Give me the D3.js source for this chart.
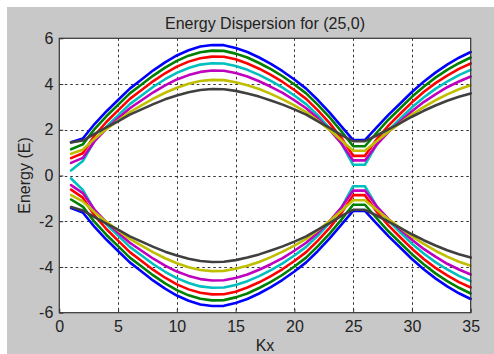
<!DOCTYPE html>
<html>
<head>
<meta charset="utf-8">
<script src="https://cdn.jsdelivr.net/npm/d3@7"></script>
<style>
  html, body { margin: 0; padding: 0; background: #ffffff; }
  svg { display: block; }
  text { font-family: "Liberation Sans", Arial, Helvetica, sans-serif; fill: #222; }
</style>
</head>
<body>
<svg id="chart" width="494" height="354"></svg>
<script>
// Wave-vector index along the tube axis
const kx = [1,2,3,4,5,6,7,8,9,10,11,12,13,14,15,16,17,18,19,20,21,22,23,24,25,26,27,28,29,30,31,32,33,34,35];

// Conduction bands (E > 0)
const cBlue    = [1.45,1.62,2.25,2.8,3.3,3.8,4.2,4.6,4.95,5.25,5.48,5.64,5.71,5.7,5.58,5.4,5.16,4.88,4.56,4.2,3.8,3.3,2.75,2.15,1.55,1.55,2.1,2.65,3.15,3.65,4.1,4.5,4.85,5.15,5.4];
const cGreen   = [1.15,1.36,2.03,2.59,3.09,3.59,3.98,4.37,4.72,5.01,5.24,5.39,5.46,5.45,5.33,5.16,4.92,4.65,4.34,3.98,3.59,3.09,2.54,1.93,1.28,1.28,1.87,2.44,2.94,3.44,3.88,4.28,4.62,4.91,5.16];
const cRed     = [0.76,0.97,1.75,2.34,2.85,3.35,3.74,4.13,4.47,4.76,4.98,5.13,5.2,5.19,5.08,4.9,4.67,4.4,4.09,3.74,3.35,2.85,2.29,1.64,0.86,0.86,1.58,2.18,2.7,3.2,3.65,4.04,4.37,4.66,4.9];
const cCyan    = [0.22,0.63,1.53,2.13,2.63,3.12,3.5,3.88,4.21,4.49,4.7,4.85,4.91,4.9,4.79,4.62,4.4,4.14,3.84,3.5,3.12,2.63,2.07,1.41,0.47,0.47,1.35,1.97,2.48,2.98,3.41,3.79,4.11,4.39,4.62];
const cMagenta = [0.55,0.77,1.5,2.04,2.5,2.94,3.29,3.64,3.94,4.2,4.39,4.53,4.59,4.58,4.48,4.33,4.12,3.88,3.61,3.29,2.94,2.5,1.99,1.4,0.66,0.66,1.35,1.9,2.36,2.81,3.21,3.55,3.86,4.11,4.33];
const cYellow  = [0.95,1.13,1.61,2.03,2.4,2.77,3.07,3.36,3.62,3.84,4.01,4.13,4.18,4.17,4.08,3.95,3.78,3.57,3.33,3.07,2.77,2.4,1.99,1.54,1.08,1.08,1.5,1.91,2.29,2.66,2.99,3.29,3.55,3.77,3.95];
const cBlack   = [1.45,1.53,1.82,2.1,2.37,2.66,2.89,3.12,3.33,3.5,3.64,3.74,3.78,3.77,3.7,3.59,3.45,3.28,3.1,2.89,2.66,2.37,2.08,1.77,1.5,1.5,1.75,2.02,2.29,2.57,2.83,3.06,3.27,3.44,3.59];

// Valence bands (E < 0)
const vBlue    = [-1.42,-1.62,-2.25,-2.8,-3.3,-3.8,-4.2,-4.6,-4.95,-5.25,-5.48,-5.64,-5.71,-5.7,-5.58,-5.4,-5.16,-4.88,-4.56,-4.2,-3.8,-3.3,-2.75,-2.15,-1.55,-1.55,-2.1,-2.65,-3.15,-3.65,-4.1,-4.5,-4.85,-5.15,-5.4];
const vGreen   = [-1.05,-1.36,-2.03,-2.59,-3.09,-3.59,-3.98,-4.37,-4.72,-5.01,-5.24,-5.39,-5.46,-5.45,-5.33,-5.16,-4.92,-4.65,-4.34,-3.98,-3.59,-3.09,-2.54,-1.93,-1.28,-1.28,-1.87,-2.44,-2.94,-3.44,-3.88,-4.28,-4.62,-4.91,-5.16];
const vRed     = [-0.62,-0.97,-1.75,-2.34,-2.85,-3.35,-3.74,-4.13,-4.47,-4.76,-4.98,-5.13,-5.2,-5.19,-5.08,-4.9,-4.67,-4.4,-4.09,-3.74,-3.35,-2.85,-2.29,-1.64,-0.86,-0.86,-1.58,-2.18,-2.7,-3.2,-3.65,-4.04,-4.37,-4.66,-4.9];
const vCyan    = [-0.13,-0.63,-1.53,-2.13,-2.63,-3.12,-3.5,-3.88,-4.21,-4.49,-4.7,-4.85,-4.91,-4.9,-4.79,-4.62,-4.4,-4.14,-3.84,-3.5,-3.12,-2.63,-2.07,-1.41,-0.47,-0.47,-1.35,-1.97,-2.48,-2.98,-3.41,-3.79,-4.11,-4.39,-4.62];
const vMagenta = [-0.42,-0.77,-1.5,-2.04,-2.5,-2.94,-3.29,-3.64,-3.94,-4.2,-4.39,-4.53,-4.59,-4.58,-4.48,-4.33,-4.12,-3.88,-3.61,-3.29,-2.94,-2.5,-1.99,-1.4,-0.66,-0.66,-1.35,-1.9,-2.36,-2.81,-3.21,-3.55,-3.86,-4.11,-4.33];
const vYellow  = [-0.86,-1.13,-1.61,-2.03,-2.4,-2.77,-3.07,-3.36,-3.62,-3.84,-4.01,-4.13,-4.18,-4.17,-4.08,-3.95,-3.78,-3.57,-3.33,-3.07,-2.77,-2.4,-1.99,-1.54,-1.08,-1.08,-1.5,-1.91,-2.29,-2.66,-2.99,-3.29,-3.55,-3.77,-3.95];
const vBlack   = [-1.38,-1.53,-1.82,-2.1,-2.37,-2.66,-2.89,-3.12,-3.33,-3.5,-3.64,-3.74,-3.78,-3.77,-3.7,-3.59,-3.45,-3.28,-3.1,-2.89,-2.66,-2.37,-2.08,-1.77,-1.5,-1.5,-1.75,-2.02,-2.29,-2.57,-2.83,-3.06,-3.27,-3.44,-3.59];

const xTicks = [0,5,10,15,20,25,30,35];
const yTicks = [-6,-4,-2,0,2,4,6];
const titleText = "Energy Dispersion for (25,0)";
const xLabel = "Kx";
const yLabel = "Energy (E)";

// Classic MATLAB line colour order
const palette = ["#0000ff","#008000","#ff0000","#00bfbf","#bf00bf","#bfbf00","#404040"];
const bands = [
  [cBlue, vBlue], [cGreen, vGreen], [cRed, vRed], [cCyan, vCyan],
  [cMagenta, vMagenta], [cYellow, vYellow], [cBlack, vBlack]
];

const W = 494, H = 354;
const box = { left: 59.3, right: 470.7, top: 38.3, bottom: 312.7 };

const svg = d3.select("#chart");

// figure background
svg.append("rect").attr("x", 7).attr("y", 7).attr("width", W - 7).attr("height", H - 7)
  .attr("fill", "#c8c8c8");

const x = d3.scaleLinear().domain([0, 35]).range([box.left, box.right]);
const y = d3.scaleLinear().domain([-6, 6]).range([box.bottom, box.top]);

// axes face
svg.append("rect")
  .attr("x", x(0)).attr("y", y(6))
  .attr("width", x(35) - x(0)).attr("height", y(-6) - y(6))
  .attr("fill", "#ffffff");

// dotted grid
const grid = svg.append("g").attr("stroke", "#333").attr("stroke-width", 1)
  .attr("stroke-dasharray", "2.5,3").attr("fill", "none");
xTicks.filter(t => t > 0 && t < 35).forEach(t => {
  grid.append("line").attr("x1", Math.round(x(t)) + 0.5).attr("x2", Math.round(x(t)) + 0.5)
    .attr("y1", y(6)).attr("y2", y(-6));
});
yTicks.filter(t => t > -6 && t < 6).forEach(t => {
  grid.append("line").attr("y1", Math.round(y(t)) + 0.5).attr("y2", Math.round(y(t)) + 0.5)
    .attr("x1", x(0)).attr("x2", x(35));
});

// band curves
const line = d3.line().x((d, i) => x(kx[i])).y(d => y(d));
const curves = svg.append("g").attr("fill", "none").attr("stroke-width", 2.6)
  .attr("stroke-linejoin", "round").attr("stroke-linecap", "round");
bands.forEach((pair, i) => {
  pair.forEach(vals => {
    curves.append("path").datum(vals).attr("d", line).attr("stroke", palette[i]);
  });
});

// axes with inward ticks
const xAxis = d3.axisBottom(x).tickValues(xTicks).tickFormat(d3.format("d"))
  .tickSizeInner(-4).tickSizeOuter(0).tickPadding(8);
const yAxis = d3.axisLeft(y).tickValues(yTicks).tickFormat(d3.format("d"))
  .tickSizeInner(-4).tickSizeOuter(0).tickPadding(6);

const gx = svg.append("g").attr("transform", `translate(0,${y(-6)})`).call(xAxis);
const gy = svg.append("g").attr("transform", `translate(${x(0)},0)`).call(yAxis);
[gx, gy].forEach(g => {
  g.select(".domain").remove();
  g.selectAll(".tick line").attr("stroke", "#333");
  g.selectAll(".tick text").attr("font-size", 16).attr("fill", "#222")
    .style("font-family", "'Liberation Sans', Arial, sans-serif");
});
gy.selectAll(".tick text").text(d => d < 0 ? "-" + Math.abs(d) : d);

// axes frame
svg.append("rect")
  .attr("x", x(0)).attr("y", y(6))
  .attr("width", x(35) - x(0)).attr("height", y(-6) - y(6))
  .attr("fill", "none").attr("stroke", "#333").attr("stroke-width", 1.2);

// titles
svg.append("text").attr("x", (x(0) + x(35)) / 2).attr("y", 29)
  .attr("text-anchor", "middle").attr("font-size", 16).text(titleText);
svg.append("text").attr("x", (x(0) + x(35)) / 2).attr("y", 351)
  .attr("text-anchor", "middle").attr("font-size", 16).text(xLabel);
svg.append("text").attr("transform", `translate(30,${(y(6) + y(-6)) / 2}) rotate(-90)`)
  .attr("text-anchor", "middle").attr("font-size", 16).text(yLabel);
</script>
</body>
</html>
